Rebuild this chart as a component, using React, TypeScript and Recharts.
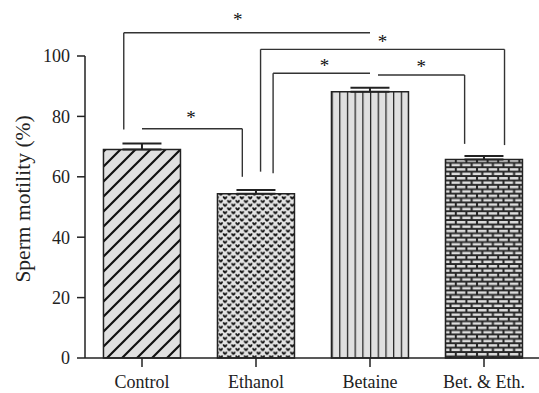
import React from "react"
import { Bar, BarChart, Cell, ErrorBar, ReferenceDot, ReferenceLine, XAxis, YAxis } from "recharts"

const groups = ["Control", "Ethanol", "Betaine", "Bet. & Eth."]
const motility = [69.0, 54.4, 88.2, 65.7]
const motilitySem = [2.0, 1.2, 1.3, 1.2]
const yTicks = [0, 20, 40, 60, 80, 100]
const fills = ["url(#hatch)", "url(#dots)", "url(#vlines)", "url(#bricks)"]

// significance brackets, x in category index units (0 = Control centre)
const brackets = [
  { x1: -0.16, x2: 2.0, y: 107.7, leg1: 75.7, leg2: null },
  { x1: 1.04, x2: 3.18, y: 102.2, leg1: 61.7, leg2: 70.5 },
  { x1: 0.0, x2: 0.88, y: 75.9, leg1: null, leg2: 60.0 },
  { x1: 1.15, x2: 2.0, y: 94.3, leg1: 61.2, leg2: null },
  { x1: 2.07, x2: 2.83, y: 93.7, leg1: null, leg2: 70.9 },
]
const stars = [
  { x: 0.84, y: 112.9 },
  { x: 2.11, y: 105.6 },
  { x: 0.43, y: 80.5 },
  { x: 1.6, y: 97.6 },
  { x: 2.45, y: 97.3 },
]

const data = groups.map((name, i) => ({ name, pos: i, value: motility[i], err: [0, motilitySem[i]] }))

const font = "'Liberation Serif', 'Times New Roman', serif"
const ink = "#222"

const Star = (props: any) => (
  <text x={props.cx} y={props.cy + 9} textAnchor="middle" fontFamily={font} fontSize={19} fill="#111">
    *
  </text>
)

const bat = "l1.4,0 l0.7,1 l0.7,-1 l1.4,0 l0,1.4 l-1.4,1.6 l-1.4,0 l-1.4,-1.6 z"

export default function App() {
  const segs: any[] = []
  brackets.forEach((b, i) => {
    segs.push({ key: `h${i}`, seg: [{ x: b.x1, y: b.y }, { x: b.x2, y: b.y }] })
    if (b.leg1 != null) segs.push({ key: `l${i}`, seg: [{ x: b.x1, y: b.y }, { x: b.x1, y: b.leg1 }] })
    if (b.leg2 != null) segs.push({ key: `r${i}`, seg: [{ x: b.x2, y: b.y }, { x: b.x2, y: b.leg2 }] })
  })

  return (
    <div style={{ position: "absolute", left: 0, top: 0, width: 539, height: 393, overflow: "hidden", background: "#fff" }}>
      <BarChart width={545} height={393} data={data} margin={{ top: 56, right: 4, left: 0, bottom: 5 }} barCategoryGap="16.2%">
        <defs>
          <pattern id="hatch" patternUnits="userSpaceOnUse" width={15} height={15}>
            <rect width={15} height={15} fill="#e0e0e0" />
            <path d="M0,15 L15,0 M-3,3 L3,-3 M12,18 L18,12" stroke="#111" strokeWidth={2.2} />
          </pattern>
          <pattern id="dots" patternUnits="userSpaceOnUse" width={8.4} height={7.4}>
            <rect width={8.4} height={7.4} fill="#e4e4e4" />
            <path d={`M0.3,0.3 ${bat} M4.5,4 ${bat} M-3.9,4 ${bat}`} fill="#111" />
          </pattern>
          <pattern id="vlines" patternUnits="objectBoundingBox" width={0.1} height={1}>
            <rect width={20} height={400} fill="#e0e0e0" />
            <line x1={0.6} y1={0} x2={0.6} y2={400} stroke="#222" strokeWidth={1.3} />
          </pattern>
          <pattern id="bricks" patternUnits="userSpaceOnUse" width={10.6} height={8.8}>
            <rect width={10.6} height={8.8} fill="#262626" />
            <rect x={1} y={1} width={8.6} height={2.5} fill="#dedede" />
            <rect x={-4.3} y={5.4} width={8.6} height={2.5} fill="#dedede" />
            <rect x={6.3} y={5.4} width={8.6} height={2.5} fill="#dedede" />
          </pattern>
        </defs>
        <XAxis
          dataKey="name"
          height={30}
          tickSize={9}
          tickMargin={8}
          tick={{ fontFamily: font, fontSize: 18, fill: ink }}
          axisLine={{ stroke: ink, strokeWidth: 1.5 }}
          tickLine={{ stroke: ink, strokeWidth: 1.5 }}
        />
        <XAxis
          xAxisId="pos"
          dataKey="pos"
          type="number"
          scale="linear"
          domain={[-0.5, 3.5]}
          allowDataOverflow
          padding={{ left: 0, right: 0 }}
          height={0}
          hide
        />
        <YAxis
          width={85}
          domain={[0, 100]}
          ticks={yTicks}
          tickSize={8}
          tickMargin={7}
          tick={{ fontFamily: font, fontSize: 18, fill: ink }}
          axisLine={{ stroke: ink, strokeWidth: 1.5 }}
          tickLine={{ stroke: ink, strokeWidth: 1.5 }}
          label={{
            content: (p: any) => {
              const vb = p.viewBox
              const x = vb.x + 23
              const y = vb.y + vb.height / 2 - 8
              return (
                <text x={x} y={y} transform={`rotate(-90, ${x}, ${y})`} textAnchor="middle" dominantBaseline="central" fontFamily={font} fontSize={21.5} fill={ink}>
                  Sperm motility (%)
                </text>
              )
            },
          }}
        />
        <Bar dataKey="value" stroke={ink} strokeWidth={1.5} isAnimationActive={false}>
          {data.map((d, i) => (
            <Cell key={d.name} fill={fills[i]} />
          ))}
          <ErrorBar dataKey="err" width={19.5} stroke={ink} strokeWidth={2} direction="y" isAnimationActive={false} />
        </Bar>
        {segs.map((s) => (
          <ReferenceLine key={s.key} xAxisId="pos" segment={s.seg} stroke="#333" strokeWidth={1.4} ifOverflow="visible" />
        ))}
        {stars.map((s, i) => (
          <ReferenceDot key={i} xAxisId="pos" x={s.x} y={s.y} r={0} ifOverflow="visible" shape={Star} />
        ))}
      </BarChart>
    </div>
  )
}
